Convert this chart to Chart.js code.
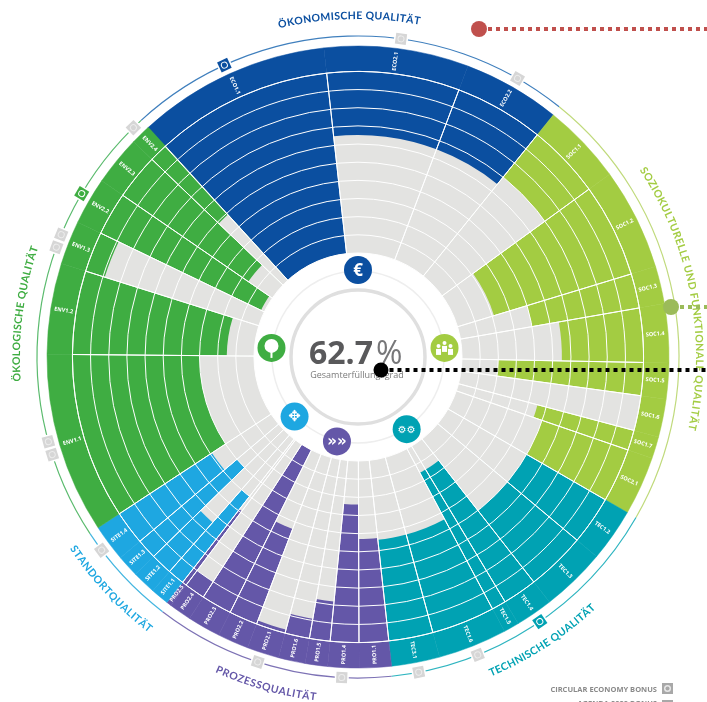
<!DOCTYPE html>
<html>
<head>
<meta charset="utf-8">
<style>
  html, body { margin: 0; padding: 0; background: #fff; }
  canvas { display: block; }
</style>
<script src="https://cdn.jsdelivr.net/npm/chart.js@4"></script>
</head>
<body>
<canvas id="chart" width="707" height="702"></canvas>
<script>
// criteria, clockwise from the ECO1.1 left edge
const criteria = ['ECO1.1','ECO2.1','ECO2.2','SOC1.1','SOC1.2','SOC1.3','SOC1.4','SOC1.5','SOC1.6','SOC1.7','SOC2.1',
  'TEC1.2','TEC1.3','TEC1.4','TEC1.5','TEC1.6','TEC3.1','PRO1.1','PRO1.4','PRO1.5','PRO1.6','PRO2.1','PRO2.2','PRO2.3','PRO2.4','PRO2.5',
  'SITE1.1','SITE1.2','SITE1.3','SITE1.4','ENV1.1','ENV1.2','ENV1.3','ENV2.2','ENV2.3','ENV2.4'];
// width of each criterion in degrees
const sweeps = [36.2,27,18.2,15.1,19.1,7,11,6.7,7.1,4.1,11,
  9.9,12.1,7,2.9,12.9,9,6,5.8,4.2,5,6,5.8,6.2,4.2,.9,
  3.4,4.4,4.1,6.9,33.8,17,8.2,8.8,9.3,3.8];
// fulfilment in percent, filled from the outer edge inwards
const scores = [100,35,35,30,79,60,45,80,0,55,50,
  50,50,85,85,56,56,57,76,22,11,2,56,100,10,51,
  60,36,70,61,70,85,11,98,84,51];
const groupOf = [0,0,0,1,1,1,1,1,1,1,1,
  2,2,2,2,2,2,3,3,3,3,3,3,3,3,3,
  4,4,4,4,5,5,5,5,5,5];

const groupNames = ['ÖKONOMISCHE QUALITÄT','SOZIOKULTURELLE UND FUNKTIONALE QUALITÄT','TECHNISCHE QUALITÄT','PROZESSQUALITÄT','STANDORTQUALITÄT','ÖKOLOGISCHE QUALITÄT'];
const groupColors = ['#0b4fa0','#a3cc42','#00a2b3','#6457a8','#1ea7e1','#3fad42'];
const groupLight = ['#3f7fbd','#c0da7c','#2fb5c0','#7d72b5','#45b6e0','#5bbb6e'];
const labelAngles = [358.5,79.4,147,195.7,226.8,277.4];  // degrees, middle of the curved title
const labelSpans = [24,46,20.8,17.4,19.2,23];            // degrees covered by the title
const labelFlip = [false,false,true,true,true,false];
const iconAngles = [0,84,146,194,226.8,276];
const iconGlyphs = ['€','','⚙⚙','»»','✥',''];
const arcEnds = [[317.5,38.8],[38.8,120],[120,174],[174,217.5],[217.5,236.6],[236.6,317.5]];

const ringTicks = [0,10,20,30,40,50,60,70,80,90,100];
const totalValue = '62.7';
const totalLabel = 'Gesamterfüllungsgrad';
const bonusLabels = ['CIRCULAR ECONOMY BONUS','AGENDA 2030 BONUS'];
// markers on the outer line, angle and group colour (-1 = grey bonus marker)
const markerAngles = [7.7,29.8,335.4,315.6,300.6,292.4,290,254.7,252.3,233,198.2,182.9,169.1,158.1,145.5];
const markerGroups = [-1,-1,0,-1,5,-1,-1,-1,-1,-1,-1,-1,-1,-1,2];

const startDeg = 317.5;
const GREY = '#e3e3e1';
const rad = d => (d - 90) * Math.PI / 180;

function curvedText(ctx, text, cx, cy, r, midDeg, spanDeg, flip) {
  // curved text, one character at a time, spread over the span
  const chars = [...text];
  const widths = chars.map(c => ctx.measureText(c).width);
  const sum = widths.reduce((a, b) => a + b, 0);
  const span = spanDeg * Math.PI / 180;
  const gap = (span * r - sum) / (chars.length - 1);
  const dir = flip ? -1 : 1;
  let a = midDeg * Math.PI / 180 - dir * span / 2;
  chars.forEach((c, i) => {
    const mid = a + dir * widths[i] / 2 / r;
    ctx.save();
    ctx.translate(cx + r * Math.sin(mid), cy - r * Math.cos(mid));
    ctx.rotate(flip ? mid + Math.PI : mid);
    ctx.fillText(c, 0, 0);
    ctx.restore();
    a += dir * (widths[i] + gap) / r;
  });
}

function drawBadge(ctx, i, x, y) {
  ctx.fillStyle = '#fff';
  if (i === 5) { // tree
    ctx.beginPath(); ctx.arc(x, y - 2, 7, 0, Math.PI * 2); ctx.fill();
    ctx.fillRect(x - 1, y + 3, 2, 7);
  } else if (i === 1) { // people
    [[-6, 1], [0, -2], [6, 1]].forEach(p => {
      ctx.beginPath(); ctx.arc(x + p[0], y + p[1] - 3, 2, 0, Math.PI * 2); ctx.fill();
      ctx.fillRect(x + p[0] - 2.5, y + p[1], 5, 6);
    });
  } else {
    ctx.font = i === 0 ? 'bold 17px "Open Sans"' : 'bold ' + (i === 2 ? 10 : 15) + 'px "DejaVu Sans"';
    ctx.textAlign = 'center'; ctx.textBaseline = 'middle';
    ctx.fillText(iconGlyphs[i], x, y + 1);
  }
}

const decorations = {
  id: 'decorations',
  afterDatasetsDraw(chart) {
    // hole in the middle goes over the arcs, the rings are drawn after
    const ctx = chart.ctx, s = chart.scales.r;
    const hole = s.getDistanceFromCenterForValue(0);
    ctx.save();
    ctx.fillStyle = '#fff';
    ctx.beginPath(); ctx.arc(s.xCenter, s.yCenter, hole, 0, Math.PI * 2); ctx.fill();
    ctx.restore();
  },
  afterDraw(chart) {
    const ctx = chart.ctx, s = chart.scales.r;
    const cx = s.xCenter, cy = s.yCenter;
    const outer = s.getDistanceFromCenterForValue(114);
    ctx.save();

    // inner rings
    ctx.strokeStyle = '#eeeeee'; ctx.lineWidth = 1.5;
    ctx.beginPath(); ctx.arc(cx, cy, 86, 0, Math.PI * 2); ctx.stroke();
    ctx.strokeStyle = '#dfdfdf'; ctx.lineWidth = 3.5;
    ctx.beginPath(); ctx.arc(cx, cy, 67, 0, Math.PI * 2); ctx.stroke();

    // criterion codes in the outer band
    let deg = startDeg;
    ctx.font = 'bold 5.5px "Open Sans"';
    ctx.fillStyle = '#fff';
    ctx.textAlign = 'center'; ctx.textBaseline = 'middle';
    criteria.forEach((name, i) => {
      const mid = (deg + sweeps[i] / 2) % 360;
      const x = cx + 298 * Math.cos(rad(mid)), y = cy + 298 * Math.sin(rad(mid));
      ctx.save();
      ctx.translate(x, y);
      ctx.rotate(mid < 174 ? rad(mid) : rad(mid) + Math.PI);
      ctx.fillText(name, 0, 0);
      ctx.restore();
      deg += sweeps[i];
    });

    // thin outer line
    arcEnds.forEach((e, i) => {
      ctx.strokeStyle = groupLight[i]; ctx.lineWidth = 1.2;
      ctx.beginPath();
      ctx.arc(cx, cy, outer + 10, rad(e[0]), rad(e[1]));
      ctx.stroke();
    });

    // markers on that line
    markerAngles.forEach((a, i) => {
      const g = markerGroups[i];
      const x = cx + (outer + 10) * Math.cos(rad(a)), y = cy + (outer + 10) * Math.sin(rad(a));
      ctx.save();
      ctx.translate(x, y); ctx.rotate(rad(a) + Math.PI / 2);
      ctx.fillStyle = '#fff';
      ctx.fillRect(-7, -7, 14, 14);
      ctx.fillStyle = g < 0 ? '#d6d6d6' : groupColors[g];
      ctx.fillRect(-5.5, -5.5, 11, 11);
      ctx.strokeStyle = g < 0 ? '#ececec' : '#fff'; ctx.lineWidth = 1;
      ctx.beginPath(); ctx.arc(0, 0, 3, 0, Math.PI * 2); ctx.stroke();
      ctx.restore();
    });

    // group titles
    ctx.font = 'bold 10.5px Lato';
    ctx.textBaseline = 'alphabetic'; ctx.textAlign = 'center';
    groupNames.forEach((name, i) => {
      ctx.fillStyle = groupColors[i];
      curvedText(ctx, name, cx, cy, labelFlip[i] ? 346 : 338, labelAngles[i], labelSpans[i], labelFlip[i]);
    });

    // group icons
    iconAngles.forEach((a, i) => {
      const x = cx + 87 * Math.cos(rad(a)), y = cy + 87 * Math.sin(rad(a));
      ctx.fillStyle = groupColors[i];
      ctx.beginPath(); ctx.arc(x, y, 14, 0, Math.PI * 2); ctx.fill();
      drawBadge(ctx, i, x, y);
    });

    // total in the middle
    ctx.textBaseline = 'alphabetic'; ctx.textAlign = 'left';
    ctx.fillStyle = '#59595b';
    ctx.font = 'bold 32px "Open Sans"';
    ctx.fillText(totalValue, 309, 364);
    const w = ctx.measureText(totalValue).width;
    ctx.fillStyle = '#777779';
    ctx.font = '32px "Open Sans"';
    ctx.fillText('%', 309 + w + 3, 364);
    ctx.font = '9px "Open Sans"';
    ctx.fillStyle = '#7a7a7a';
    ctx.textAlign = 'center';
    ctx.fillText(totalLabel, 357, 378);

    // bonus legend, cut by the bottom edge
    ctx.font = 'bold 7.5px "Open Sans"';
    ctx.textAlign = 'right';
    bonusLabels.forEach((t, i) => {
      ctx.fillStyle = '#8a8a8a';
      ctx.fillText(t, 657, 692 + i * 14);
      const top = 683 + i * 17;
      ctx.fillStyle = '#a8a8a8';
      ctx.fillRect(662, top, 11, 11);
      ctx.fillStyle = '#e8e8e8';
      ctx.beginPath(); ctx.arc(667.5, top + 5.5, 3.5, 0, Math.PI * 2); ctx.fill();
      ctx.fillStyle = '#a8a8a8';
      ctx.beginPath(); ctx.arc(667.5, top + 5.5, 2, 0, Math.PI * 2); ctx.fill();
    });

    // pointers
    const pointer = (x, y, r, color) => {
      ctx.fillStyle = color;
      ctx.beginPath(); ctx.arc(x, y, r, 0, Math.PI * 2); ctx.fill();
      for (let px = x + r + 1; px < 707; px += 8) ctx.fillRect(px, y - 2, 4, 4);
    };
    pointer(479, 29, 8, '#c0504d');
    pointer(671, 307, 8, '#9bbb59');
    pointer(381, 370, 7.5, '#000');
    ctx.restore();
  }
};

new Chart(document.getElementById('chart'), {
  type: 'polarArea',
  data: {
    labels: criteria,
    datasets: [
      { // white radial lines
        data: criteria.map(() => 100),
        angle: c => sweeps[c.dataIndex],
        backgroundColor: 'rgba(0,0,0,0)',
        borderColor: '#fff',
        borderWidth: 1
      },
      { // unfilled part, from the hole out to the score
        data: scores.map(v => 100 - v),
        angle: c => sweeps[c.dataIndex],
        backgroundColor: GREY,
        borderWidth: 0
      },
      { // filled part and outer band
        data: criteria.map(() => 114),
        angle: c => sweeps[c.dataIndex],
        backgroundColor: c => groupColors[groupOf[c.dataIndex]],
        borderColor: c => groupColors[groupOf[c.dataIndex]],
        borderWidth: 0.5
      }
    ]
  },
  options: {
    responsive: false,
    animation: false,
    layout: { padding: { left: 47, right: 38, top: 46, bottom: 34 } },
    plugins: { legend: { display: false }, tooltip: { enabled: false } },
    scales: {
      r: {
        startAngle: startDeg,
        min: -57.3,
        max: 114,
        afterBuildTicks: s => { s.ticks = ringTicks.map(v => ({ value: v })); },
        ticks: { display: false },
        angleLines: { display: false },
        pointLabels: { display: false },
        grid: { circular: true, color: '#fff', lineWidth: 1, z: 1 }
      }
    }
  },
  plugins: [decorations]
});
</script>
</body>
</html>
